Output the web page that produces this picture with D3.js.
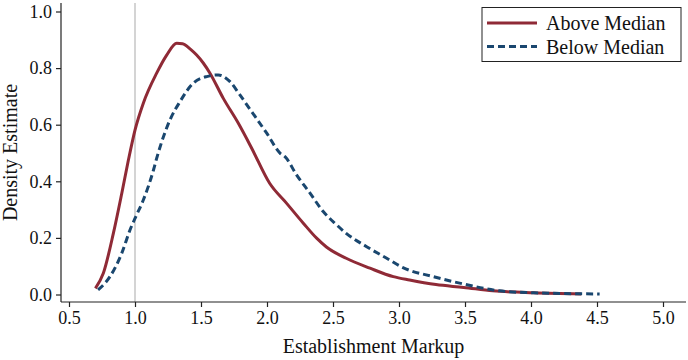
<!DOCTYPE html>
<html><head><meta charset="utf-8">
<script src="https://cdn.jsdelivr.net/npm/d3@7"></script>
<style>body{margin:0;background:#fff}svg{display:block}text{font-family:"Liberation Serif","Times New Roman",serif;fill:#111}</style>
</head><body><svg id="c" width="688" height="360"></svg>
<script>
const aboveX = [0.70,0.76,0.836,0.90,0.95,1.00,1.063,1.164,1.24,1.316,1.36,1.417,1.467,1.517,1.568,1.669,1.783,1.884,2.02,2.149,2.275,2.376,2.45,2.60,2.78,2.957,3.08,3.28,3.49,3.71,4.02,4.38];
const aboveY = [0.022,0.075,0.216,0.358,0.475,0.581,0.676,0.782,0.846,0.888,0.886,0.868,0.846,0.818,0.782,0.693,0.605,0.517,0.393,0.322,0.252,0.199,0.168,0.128,0.093,0.063,0.051,0.035,0.025,0.013,0.006,0.002];
const belowX = [0.72,0.81,0.90,0.962,1.00,1.063,1.14,1.164,1.265,1.34,1.44,1.543,1.631,1.72,1.795,1.884,1.998,2.10,2.136,2.225,2.326,2.426,2.528,2.60,2.755,2.907,3.03,3.26,3.48,3.76,4.02,4.52];
const belowY = [0.016,0.063,0.146,0.228,0.269,0.334,0.44,0.481,0.617,0.681,0.746,0.770,0.776,0.752,0.705,0.646,0.570,0.499,0.487,0.422,0.358,0.293,0.246,0.216,0.169,0.128,0.095,0.063,0.038,0.013,0.006,0.002];
const xTicks = [0.5,1.0,1.5,2.0,2.5,3.0,3.5,4.0,4.5,5.0];
const yTicks = [0.0,0.2,0.4,0.6,0.8,1.0];
const seriesNames = ["Above Median","Below Median"];
const refLine = 1.0;

(function(){
const svg = d3.select("#c");
const x = d3.scaleLinear().domain([0.5,5.0]).range([69,663]);
const y = d3.scaleLinear().domain([0,1]).range([294.5,11.5]);
const pL = 61, pB = 302, pR = 686, pT = 3;

const red = "#8f2a36", blue = "#1a476f";

svg.append("line").attr("x1",x(refLine)).attr("x2",x(refLine)).attr("y1",pT).attr("y2",pB)
  .attr("stroke","#bdbdbd").attr("stroke-width",1.3);

const xa = svg.append("g").attr("transform",`translate(0,${pB})`)
  .call(d3.axisBottom(x).tickValues(xTicks).tickFormat(d3.format(".1f")).tickSize(5).tickPadding(4));
const ya = svg.append("g").attr("transform",`translate(${pL},0)`)
  .call(d3.axisLeft(y).tickValues(yTicks).tickFormat(d3.format(".1f")).tickSize(5).tickPadding(4));
xa.select(".domain").attr("d",`M${pL},0H${pR}`);
ya.select(".domain").attr("d",`M0,${pT}V${pB}`);
[xa,ya].forEach(g=>{
  g.selectAll("path,line").attr("stroke","#222").attr("stroke-width",1.2);
  g.selectAll("text").attr("font-family","Liberation Serif, serif").attr("font-size",18).attr("fill","#111");
});

const line = d3.line().curve(d3.curveMonotoneX).x(d=>x(d[0])).y(d=>y(d[1]));
svg.append("path").datum(aboveX.map((v,i)=>[v,aboveY[i]])).attr("d",line)
  .attr("fill","none").attr("stroke",red).attr("stroke-width",3);
svg.append("path").datum(belowX.map((v,i)=>[v,belowY[i]])).attr("d",line)
  .attr("fill","none").attr("stroke",blue).attr("stroke-width",3).attr("stroke-dasharray","7,4");

svg.append("text").attr("x",(pL+pR)/2).attr("y",353).attr("text-anchor","middle").attr("font-size",20).text("Establishment Markup");
svg.append("text").attr("transform",`translate(17,${(pT+pB)/2}) rotate(-90)`).attr("text-anchor","middle").attr("font-size",20).text("Density Estimate");

const lg = svg.append("g");
lg.append("rect").attr("x",482).attr("y",7.5).attr("width",199).attr("height",54).attr("fill","#fff").attr("stroke","#222").attr("stroke-width",1);
[[red,null],[blue,"7,4"]].forEach((s,i)=>{
  const yy = 23 + i*23.5;
  lg.append("line").attr("x1",487).attr("x2",537).attr("y1",yy).attr("y2",yy).attr("stroke",s[0]).attr("stroke-width",3).attr("stroke-dasharray",s[1]);
  lg.append("text").attr("x",546).attr("y",yy+7).attr("font-size",20).text(seriesNames[i]);
});
})();
</script></body></html>
